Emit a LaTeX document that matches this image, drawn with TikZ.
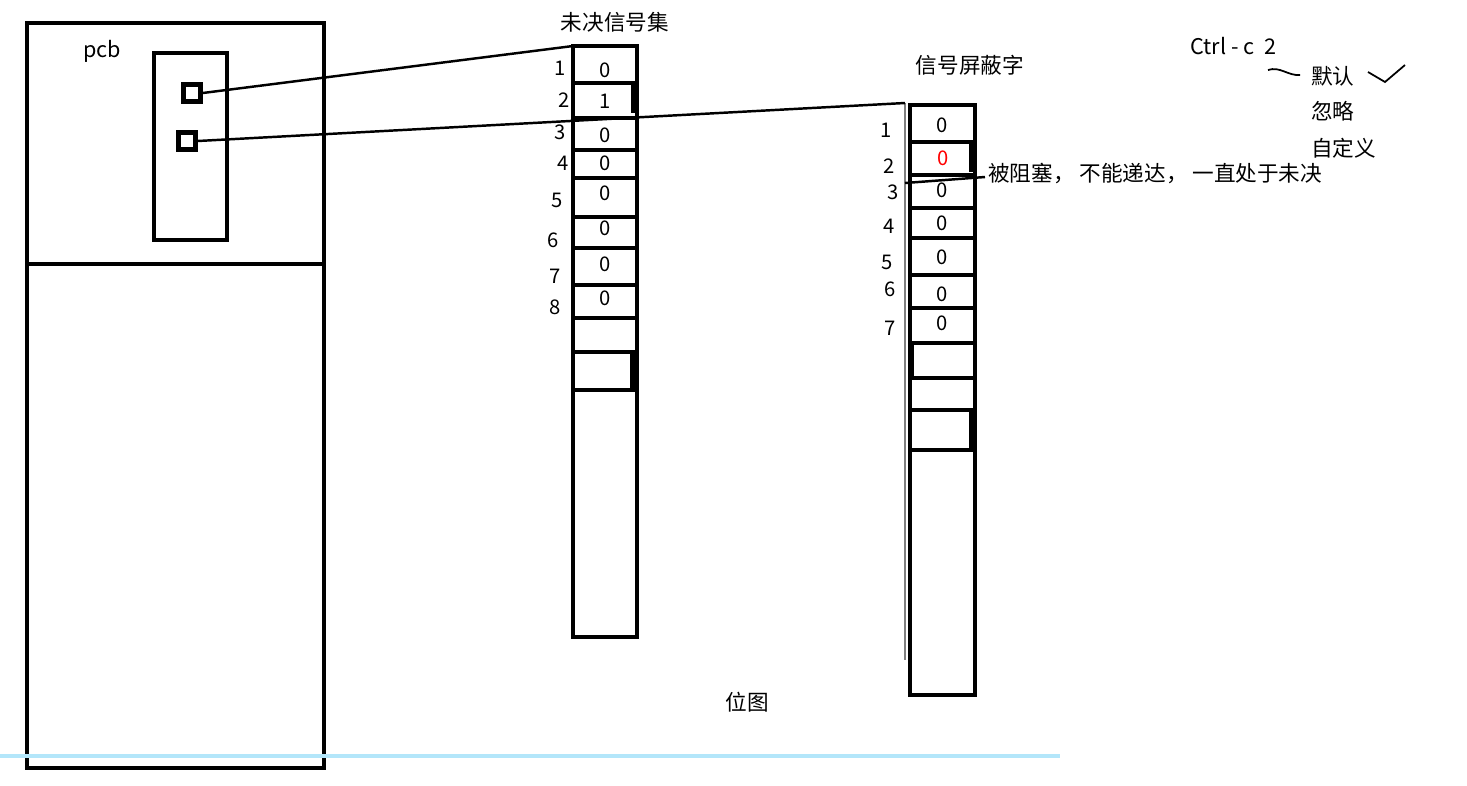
\documentclass[tikz,border=0pt]{standalone}
\usepackage{fontspec}
\setmainfont{Noto Sans CJK SC}
\tikzset{
  box/.style={line width=2.8pt},
  col/.style={line width=2.2pt},
  wire/.style={line width=1.4pt},
  sq/.style={draw,line width=2.6pt,minimum size=0.34cm,inner sep=0pt},
  txt/.style={font=\fontsize{12.3}{14}\selectfont,inner sep=0pt},
  num/.style={font=\fontsize{11.5}{13}\selectfont,inner sep=0pt},
}
\begin{document}
\begin{tikzpicture}[x=0.02cm,y=-0.02cm]
        \useasboundingbox (0,0) rectangle (1467,785);

        % pcb
        \draw[box] (27,23) rectangle (324,768);
        \draw[box] (27,264) -- (324,264);
        \draw[box] (154,53) rectangle (227,240);
        \node[txt] (pcb) at (102,51) {pcb};
        \node[sq] (s1) at (192,93) {};
        \node[sq] (s2) at (187,141) {};

        % pending set
        \coordinate (p) at (573,46);
        \draw[col] (573,46) rectangle (637,637);
        \foreach \y in {83,118,150,178,217,248,285,318,352,390}
            \draw[col] (573,\y) -- (637,\y);
        \draw[line width=3.5pt] (634,84) -- (634,113);
        \draw[line width=3.5pt] (633,352) -- (633,390);
        \node[txt] (ptitle) at (615,22) {未决信号集};
        \foreach \n/\x/\y/\v/\w in {1/560/68/0/70, 2/564/100/1/101, 3/560/132/0/135, 4/563/163/0/163,
                                    5/557/200/0/193, 6/553/240/0/228, 7/555/276/0/264, 8/555/307/0/298}
        {
            \node[num] at (\x,\y) {\n};
            \node[num] at (605,\w) {\v};
        }

        % mask
        \coordinate (m) at (905,103);
        \draw[col] (910,105) rectangle (975,695);
        \foreach \y in {142,175,208,238,275,308,343,378,410,450}
            \draw[col] (910,\y) -- (975,\y);
        \draw[line width=3.5pt] (972,143) -- (972,172);
        \draw[line width=3.5pt] (911,343) -- (911,378);
        \draw[line width=3.5pt] (972,410) -- (972,450);
        \draw[gray,line width=1.2pt] (905,103) -- (905,660);
        \node[txt] (mtitle) at (970,65) {信号屏蔽字};
        \foreach \n/\x/\y in {1/886/130, 2/889/166, 3/893/192, 4/889/226,
                              5/887/262, 6/890/289, 7/890/328}
            \node[num] at (\x,\y) {\n};
        \foreach \v/\y in {0/125, 0/190, 0/223, 0/257, 0/294, 0/323}
            \node[num] at (942,\y) {\v};
        \node[num,text=red] (red) at (943,158) {0};

        % wires
        \draw[wire] (s1.east) -- (p);
        \draw[wire] (s2.east) -- (m);

        % blocked
        \coordinate (b) at (985,177);
        \draw[wire] (905,183) -- (b);
        \node[txt,anchor=west] (note) at (988,173) {被阻塞，\ 不能递达，\ 一直处于未决};

        % actions
        \node[txt,anchor=west] (ctrl) at (1190,46) {Ctrl\ -\ c\ \ 2};
        \draw[wire,line width=1pt] (1268,70) .. controls (1280,66) and (1288,76) .. (1300,75);
        \node[txt,anchor=west] (dft) at (1311,76) {默认};
        \node[txt,anchor=west] (ign) at (1311,111) {忽略};
        \node[txt,anchor=west] (usr) at (1311,148) {自定义};
        \draw[line width=1pt] (1368,72) -- (1385,82) -- (1405,65);

        \node[txt] (bmp) at (747,702) {位图};
        \draw[cyan!30,line width=2.8pt] (0,756) -- (1060,756);
    \end{tikzpicture}
\end{document}
